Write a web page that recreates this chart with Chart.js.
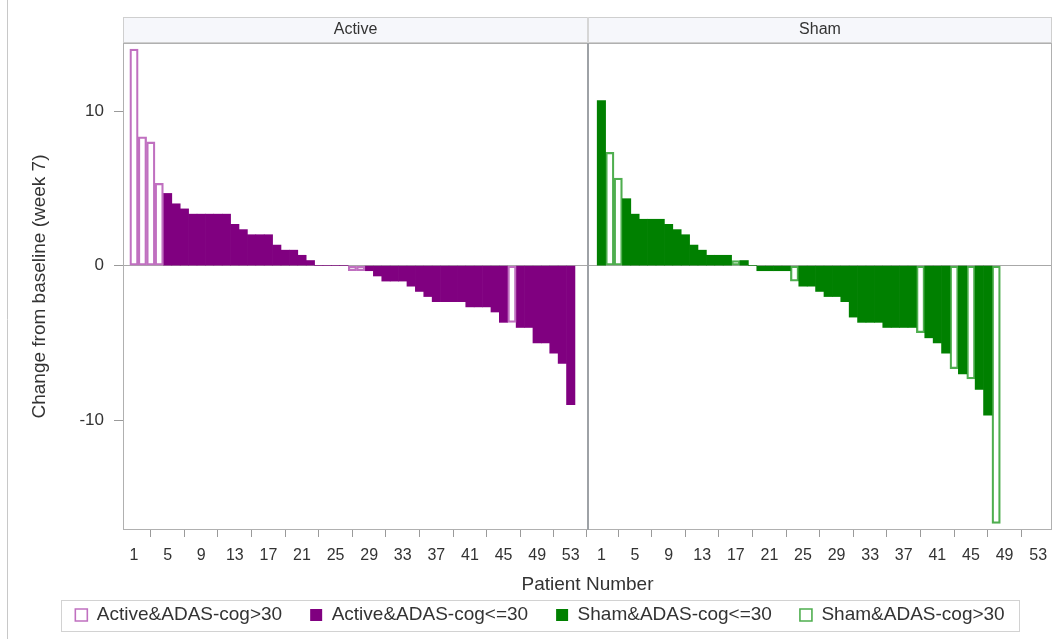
<!DOCTYPE html>
<html>
<head>
<meta charset="utf-8">
<script src="https://cdn.jsdelivr.net/npm/chart.js@4.4.1/dist/chart.umd.min.js"></script>
<style>
html,body{margin:0;padding:0;background:#fff;overflow:hidden}
#wrap{position:relative;width:1062px;height:639px}
</style>
</head>
<body>
<div id="wrap"><canvas id="c" width="1062" height="639"></canvas></div>
<script>
// ---- data ----
const activeChange = [14.0, 8.33, 8.0, 5.33, 4.67, 4.0, 3.67, 3.33, 3.33, 3.33,
  3.33, 3.33, 2.67, 2.33, 2.0, 2.0, 2.0, 1.33, 1.0, 1.0,
  0.67, 0.33, 0, 0, 0, 0, -0.33, -0.33, -0.33, -0.67,
  -1.0, -1.0, -1.0, -1.33, -1.67, -2.0, -2.33, -2.33, -2.33, -2.33,
  -2.67, -2.67, -2.67, -3.0, -3.67, -3.67, -4.0, -4.0, -5.0, -5.0,
  -5.67, -6.33, -9.0];
const shamChange = [10.67, 7.33, 5.67, 4.33, 3.33, 3.0, 3.0, 3.0, 2.67, 2.33,
  2.0, 1.33, 1.0, 0.67, 0.67, 0.67, 0.33, 0.33, 0, -0.33,
  -0.33, -0.33, -0.33, -1.0, -1.33, -1.33, -1.67, -2.0, -2.0, -2.33,
  -3.33, -3.67, -3.67, -3.67, -4.0, -4.0, -4.0, -4.0, -4.33, -4.67,
  -5.0, -5.67, -6.67, -7.0, -7.33, -8.0, -9.67, -16.67];
const activeHighADAS = [1, 2, 3, 4, 27, 28, 46];      // hollow bars (ADAS-cog>30)
const shamHighADAS = [2, 3, 17, 24, 39, 43, 45, 48];
const panelNames = ['Active', 'Sham'];
const seriesNames = ['Active&ADAS-cog>30', 'Active&ADAS-cog<=30', 'Sham&ADAS-cog<=30', 'Sham&ADAS-cog>30'];
const patientTicks = [1, 5, 9, 13, 17, 21, 25, 29, 33, 37, 41, 45, 49, 53];
const yTicks = [-10, 0, 10];

// ---- layout of the paneled x axis ----
const X_MIN = -0.31, X_MAX = 110.3, SHAM_OFFSET = 55.65, PANEL_SPLIT = 55.11;

const NARROW = "'Liberation Sans Narrow', 'Liberation Sans', Arial, sans-serif";
const SANS = "'Liberation Sans', Arial, sans-serif";

function points(values, offset, keep) {
  return values.map((v, i) => ({ x: i + 1 + offset, y: v, n: i + 1 })).filter(p => keep(p.n));
}

const datasets = [
  { label: seriesNames[0], data: points(activeChange, 0, n => activeHighADAS.includes(n)),
    backgroundColor: 'rgba(255,255,255,0)', borderColor: '#c070c0', borderWidth: 1.6 },
  { label: seriesNames[1], data: points(activeChange, 0, n => !activeHighADAS.includes(n)),
    backgroundColor: '#800080', borderColor: '#800080', borderWidth: 0 },
  { label: seriesNames[2], data: points(shamChange, SHAM_OFFSET, n => !shamHighADAS.includes(n)),
    backgroundColor: '#008000', borderColor: '#008000', borderWidth: 0 },
  { label: seriesNames[3], data: points(shamChange, SHAM_OFFSET, n => shamHighADAS.includes(n)),
    backgroundColor: 'rgba(255,255,255,0)', borderColor: '#4fae4f', borderWidth: 1.6 }
];

const panelPlugin = {
  id: 'panels',
  beforeDraw(chart) {
    const ctx = chart.ctx;
    ctx.save();
    ctx.strokeStyle = '#c8c8c8';
    ctx.lineWidth = 1;
    ctx.beginPath(); ctx.moveTo(7.5, 0); ctx.lineTo(7.5, 639); ctx.stroke();
    ctx.restore();
  },
  afterDatasetsDraw(chart) {
    const ctx = chart.ctx, ca = chart.chartArea, xs = chart.scales.x;
    const split = Math.round(xs.getPixelForValue(PANEL_SPLIT));
    ctx.save();
    // header strip
    const hTop = 17;
    ctx.fillStyle = '#f6f7fb';
    ctx.fillRect(ca.left, hTop, ca.right - ca.left, ca.top - hTop);
    ctx.strokeStyle = '#cfcfcf';
    ctx.lineWidth = 1;
    ctx.strokeRect(ca.left + 0.5, hTop + 0.5, ca.right - ca.left - 1, ca.top - hTop - 1);
    ctx.strokeStyle = '#d6d6d6';
    ctx.lineWidth = 2;
    ctx.beginPath(); ctx.moveTo(split, hTop); ctx.lineTo(split, ca.top); ctx.stroke();
    ctx.fillStyle = '#333';
    ctx.font = "16px " + NARROW;
    ctx.textAlign = 'center';
    ctx.textBaseline = 'middle';
    ctx.fillText(panelNames[0], (ca.left + split) / 2, (hTop + ca.top) / 2);
    ctx.fillText(panelNames[1], (split + ca.right) / 2, (hTop + ca.top) / 2);
    // panel frames
    ctx.strokeStyle = '#b0b0b0';
    ctx.lineWidth = 1;
    ctx.strokeRect(ca.left + 0.5, ca.top + 0.5, ca.right - ca.left - 1, ca.bottom - ca.top - 1);
    ctx.strokeStyle = '#9ea2a6';
    ctx.lineWidth = 2;
    ctx.beginPath(); ctx.moveTo(split, ca.top); ctx.lineTo(split, ca.bottom); ctx.stroke();
    ctx.restore();
  },
  afterDraw(chart) {
    const lg = chart.legend;
    if (!lg || !lg.legendHitBoxes || !lg.legendHitBoxes.length) return;
    const hb = lg.legendHitBoxes;
    const first = hb[0], last = hb[hb.length - 1];
    const ctx = chart.ctx;
    ctx.save();
    ctx.strokeStyle = '#d2d2d2';
    ctx.lineWidth = 1;
    const l = Math.round(first.left - 14) + 0.5, r = Math.round(last.left + last.width + 14) + 0.5;
    const t = Math.round(first.top - 6) + 0.5, b = Math.round(first.top + first.height + 6) + 0.5;
    ctx.strokeRect(l, t, r - l, b - t);
    ctx.restore();
  }
};

new Chart(document.getElementById('c'), {
  type: 'bar',
  data: { datasets },
  options: {
    responsive: false,
    animation: false,
    devicePixelRatio: 1,
    layout: { padding: { top: 43, right: 10, bottom: 4.5, left: 28 } },
    datasets: { bar: { grouped: false, barPercentage: 1, categoryPercentage: 1, borderSkipped: false } },
    scales: {
      x: {
        type: 'linear', min: X_MIN, max: X_MAX, offset: false,
        afterBuildTicks: s => {
          s.ticks = patientTicks.map(v => ({ value: v })).concat(patientTicks.map(v => ({ value: v + SHAM_OFFSET })));
        },
        afterFit: s => { s.height = 47.5; },
        grid: { display: true, drawOnChartArea: false, drawTicks: true, tickLength: 7, tickColor: '#9a9a9a', color: '#9a9a9a' },
        border: { display: false },
        ticks: {
          autoSkip: false, maxRotation: 0, minRotation: 0, padding: 9, color: '#333',
          font: { family: NARROW, size: 16 },
          callback: v => (v > PANEL_SPLIT ? Math.round(v - SHAM_OFFSET) : Math.round(v))
        },
        title: { display: true, text: 'Patient Number', color: '#333', font: { family: SANS, size: 19 }, padding: { top: 0, bottom: -19 } }
      },
      y: {
        min: -17.1, max: 14.4,
        afterBuildTicks: s => { s.ticks = yTicks.map(v => ({ value: v })); },
        afterFit: s => { s.width = 95; },
        grid: {
          drawTicks: true, tickLength: 9, tickColor: '#9a9a9a',
          color: c => (c.tick && c.tick.value === 0 ? '#a8a8a8' : 'rgba(0,0,0,0)')
        },
        border: { display: false },
        ticks: { padding: 10, color: '#333', font: { family: SANS, size: 17 } },
        title: { display: true, text: 'Change from baseline (week 7)', color: '#333', font: { family: SANS, size: 19 }, padding: { top: 0, bottom: 0 } }
      }
    },
    plugins: {
      legend: {
        position: 'bottom',
        labels: { boxWidth: 12, boxHeight: 12, padding: 28, color: '#333', font: { family: SANS, size: 19 } }
      },
      tooltip: { enabled: false }
    }
  },
  plugins: [panelPlugin]
});
</script>
</body>
</html>
